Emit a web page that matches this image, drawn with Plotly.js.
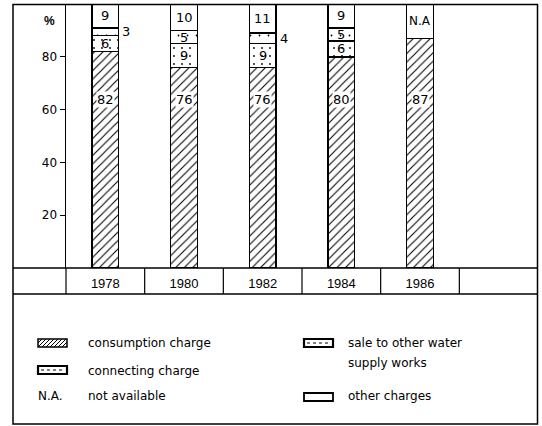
<!DOCTYPE html>
<html><head><meta charset="utf-8">
<script src="https://cdn.plot.ly/plotly-3.0.1.min.js"></script>
<style>html,body{margin:0;padding:0;background:#fff}</style>
</head><body><div id="chart" style="width:542px;height:426px"></div>
<script>
// ---- data ----
const years = ['1978', '1980', '1982', '1984', '1986'];
const consumption = [82, 76, 76, 80, 87];
const connecting = [6, 9, 9, 6, null];
const sale = [3, 5, 4, 5, null];
const other = [9, 10, 11, 9, null];
const notAvailable = [null, null, null, null, 13];
const naLabels = ['', '', '', '', 'N.A'];
const yTicks = [20, 40, 60, 80];

// ---- geometry helpers (pixel -> paper) ----
const W = 542, H = 426, L = 66, R = 4, T = 4, B = 158;
const PW = W - L - R, PH = H - T - B;
const px = p => (p - L) / PW;
const py = p => (H - B - p) / PH;

const FONT = 'DejaVu Sans';
const FONT2 = 'Liberation Sans';
const lineStyle = {color: '#000', width: 1.5};
const barW = 0.34;

function barTrace(name, y, pattern) {
  return {
    type: 'bar', name: name, x: years, y: y, width: barW,
    marker: {color: '#fff', line: lineStyle, pattern: pattern},
    hoverinfo: 'name+y', showlegend: false
  };
}

const traces = [
  barTrace('consumption charge', consumption, {shape: '/', fgcolor: '#000', bgcolor: '#fff', size: 6, solidity: 0.18}),
  barTrace('connecting charge', connecting, {shape: '.', fgcolor: '#000', bgcolor: '#fff', size: 8, solidity: 0.04}),
  barTrace('sale to other water supply works', sale, {shape: '.', fgcolor: '#000', bgcolor: '#fff', size: 9, solidity: 0.03}),
  barTrace('other charges', other, {shape: '', fgcolor: '#000', bgcolor: '#fff'}),
  barTrace('not available', notAvailable, {shape: '', fgcolor: '#000', bgcolor: '#fff'})
];

// ---- value labels ----
const ann = [];
const numFont = {family: FONT, size: 13, color: '#000'};
years.forEach((yr, i) => {
  ann.push({x: i, y: 64, xref: 'x', yref: 'y', text: String(consumption[i]), showarrow: false,
            font: numFont, bgcolor: '#fff', borderpad: 0});
  let base = consumption[i];
  if (connecting[i] != null) {
    ann.push({x: i, y: base + connecting[i] / 2, xref: 'x', yref: 'y', text: String(connecting[i]),
              showarrow: false, font: numFont});
    base += connecting[i];
  }
  if (sale[i] != null) {
    const small = sale[i] < 5;
    ann.push({x: i, y: base + sale[i] / 2, xref: 'x', yref: 'y', text: String(sale[i]),
              showarrow: false, font: numFont, xshift: small ? 21 : 0});
    base += sale[i];
  }
  if (other[i] != null) {
    ann.push({x: i, y: base + other[i] / 2, xref: 'x', yref: 'y', text: String(other[i]),
              showarrow: false, font: numFont});
    base += other[i];
  }
  if (notAvailable[i] != null) {
    ann.push({x: i, y: base + notAvailable[i] / 2, xref: 'x', yref: 'y', text: naLabels[i],
              showarrow: false, font: {family: FONT, size: 12, color: '#000'}});
  }
});

// % unit label
ann.push({x: px(42), y: py(12), xref: 'paper', yref: 'paper', text: '<b>%</b>', showarrow: false,
          font: {family: FONT2, size: 12, color: '#000'}});

// ---- legend (drawn) ----
const legFont = {family: FONT, size: 12, color: '#000'};
function legText(x, y, t) {
  ann.push({x: px(x), y: py(y), xref: 'paper', yref: 'paper', text: t, showarrow: false,
            xanchor: 'left', yanchor: 'middle', font: legFont});
}
legText(86, 343, 'consumption charge');
legText(86, 371, 'connecting charge');
legText(36, 396, 'N.A.');
legText(86, 396, 'not available');
legText(346, 343, 'sale to other water');
legText(346, 363, 'supply works');
legText(346, 396, 'other charges');

// ---- shapes: frame, category row, legend swatches ----
const shapes = [];
const pl = px(13), pr = px(537.5);
shapes.push({type: 'rect', xref: 'paper', yref: 'paper', x0: pl, x1: pr, y0: py(424), y1: py(4.5), line: lineStyle});
shapes.push({type: 'line', xref: 'paper', yref: 'paper', x0: pl, x1: pr, y0: 0, y1: 0, line: lineStyle});
shapes.push({type: 'line', xref: 'paper', yref: 'paper', x0: pl, x1: pr, y0: py(294), y1: py(294), line: lineStyle});
for (let k = 0; k <= 5; k++) {
  shapes.push({type: 'line', xref: 'paper', yref: 'paper', x0: k / 6, x1: k / 6, y0: py(294), y1: 0, line: {color: '#000', width: 1.2}});
}
function swatchRect(x0, x1, y0, y1, w, fill) {
  shapes.push({type: 'rect', xref: 'paper', yref: 'paper', x0: px(x0), x1: px(x1), y0: py(y1), y1: py(y0),
               line: {color: '#000', width: w}, fillcolor: fill || '#fff'});
}
// consumption swatch with hatch
swatchRect(38, 67, 339, 347, 1.5);
let hp = '';
for (let sx = 34; sx < 72; sx += 4) {
  let xa = sx, ya = 347, xb = sx + 8, yb = 339;
  if (xa < 38) { ya = 347 - (38 - xa); xa = 38; }
  if (xb > 67) { yb = 339 + (xb - 67); xb = 67; }
  if (xa >= xb) continue;
  hp += `M${px(xa)},${py(ya)} L${px(xb)},${py(yb)} `;
}
shapes.push({type: 'path', xref: 'paper', yref: 'paper', path: hp, line: {color: '#000', width: 1}});
// connecting swatch
swatchRect(38, 67, 366, 374, 2.2);
shapes.push({type: 'line', xref: 'paper', yref: 'paper', x0: px(41), x1: px(64), y0: py(370), y1: py(370), line: {color: '#000', width: 1, dash: 'dot'}});
// sale swatch
swatchRect(304, 333, 339, 347, 2.2);
shapes.push({type: 'line', xref: 'paper', yref: 'paper', x0: px(307), x1: px(330), y0: py(343), y1: py(343), line: {color: '#000', width: 1, dash: 'dot'}});
// other charges swatch
swatchRect(304, 333, 393, 401, 1.8);

const layout = {
  width: W, height: H,
  margin: {l: L, r: R, t: T, b: B, pad: 0},
  paper_bgcolor: '#fff', plot_bgcolor: '#fff',
  barmode: 'stack', showlegend: false,
  font: {family: FONT, color: '#000'},
  xaxis: {type: 'category', range: [-0.5, 5.5], showline: false, showgrid: false, zeroline: false,
          ticks: '', ticklabelstandoff: 6, tickfont: {family: FONT2, size: 13, color: '#000'}, fixedrange: true},
  yaxis: {range: [0, 100], tickvals: yTicks, ticks: 'outside', ticklen: 5, tickwidth: 1.2, tickcolor: '#000',
          showline: true, linecolor: '#000', linewidth: 1.5, showgrid: false, zeroline: false,
          tickfont: {family: FONT, size: 12, color: '#000'}, fixedrange: true},
  annotations: ann,
  shapes: shapes
};

Plotly.newPlot('chart', traces, layout, {displayModeBar: false, staticPlot: true});
</script>
</body></html>
